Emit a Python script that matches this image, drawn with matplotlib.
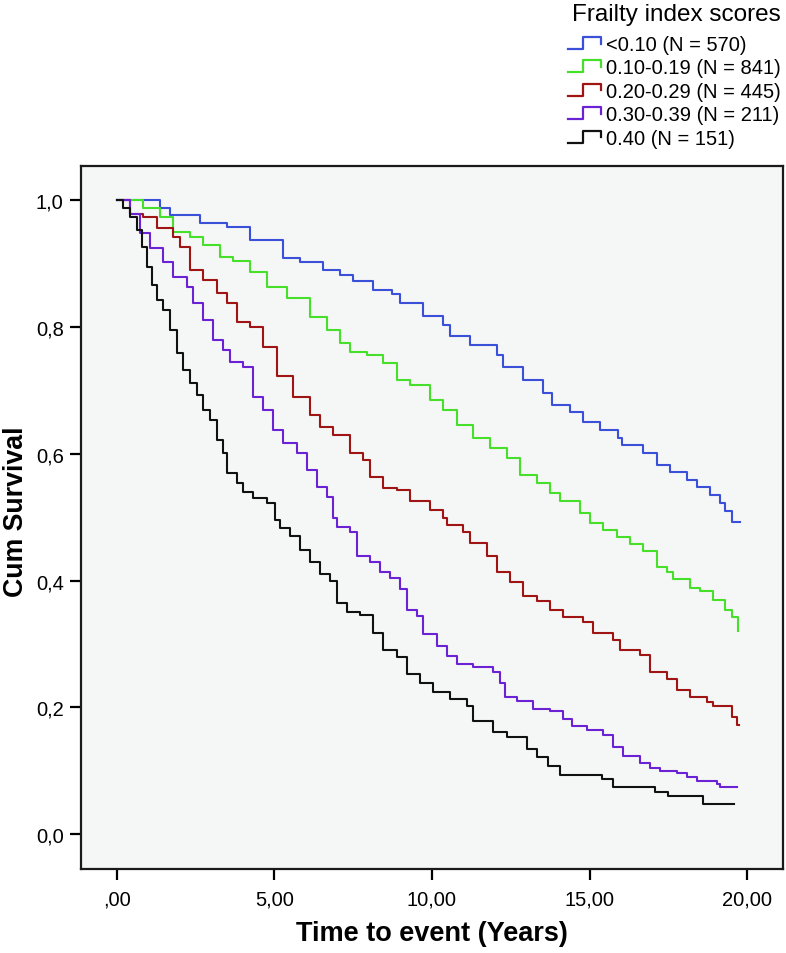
import numpy as np
import matplotlib
matplotlib.use("Agg")
import matplotlib.pyplot as plt
from matplotlib.lines import Line2D
from matplotlib.legend_handler import HandlerBase

plt.rcParams['font.family'] = ['Liberation Sans', 'DejaVu Sans']

# Kaplan-Meier curves (time in years, cumulative survival)
t_lt010 = [0, 1.37, 1.68, 2.63, 3.49, 4.22, 5.27, 5.81, 6.54, 7.08, 7.49, 8.13, 8.73, 8.98,
           9.71, 10.35, 10.57, 11.21, 12.06, 12.25, 12.89, 13.52, 13.81, 14.38, 14.79, 15.33,
           15.90, 16.03, 16.70, 17.14, 17.56, 18.10, 18.41, 18.83, 19.14, 19.30, 19.52, 19.78]
s_lt010 = [1.0, 0.987, 0.976, 0.964, 0.957, 0.937, 0.909, 0.902, 0.890, 0.882, 0.873, 0.858,
           0.852, 0.838, 0.817, 0.803, 0.786, 0.772, 0.756, 0.737, 0.717, 0.696, 0.677, 0.666,
           0.650, 0.638, 0.625, 0.614, 0.601, 0.583, 0.572, 0.559, 0.548, 0.535, 0.523, 0.509,
           0.493, 0.493]

t_010 = [0, 0.83, 1.37, 1.78, 2.32, 2.73, 3.27, 3.68, 4.22, 4.76, 5.40, 6.13, 6.67, 7.08, 7.40,
         7.94, 8.44, 8.89, 9.30, 9.94, 10.35, 10.79, 11.30, 11.84, 12.38, 12.79, 13.33, 13.75,
         14.06, 14.70, 15.02, 15.43, 15.87, 16.29, 16.70, 17.14, 17.46, 17.65, 18.19, 18.51,
         18.92, 19.30, 19.52, 19.71, 19.72]
s_010 = [1.0, 0.987, 0.974, 0.950, 0.942, 0.929, 0.911, 0.904, 0.887, 0.863, 0.845, 0.816,
         0.795, 0.775, 0.761, 0.756, 0.743, 0.717, 0.709, 0.685, 0.669, 0.646, 0.625, 0.609,
         0.594, 0.567, 0.554, 0.538, 0.525, 0.507, 0.491, 0.480, 0.468, 0.457, 0.446, 0.422,
         0.414, 0.402, 0.389, 0.383, 0.370, 0.354, 0.342, 0.320, 0.320]

t_020 = [0, 0.41, 0.83, 1.27, 1.78, 2.00, 2.32, 2.73, 3.17, 3.49, 3.81, 4.22, 4.63, 5.08, 5.59,
         6.13, 6.44, 6.86, 7.40, 7.81, 8.03, 8.44, 8.89, 9.30, 9.94, 10.35, 10.48, 10.98, 11.21,
         11.75, 12.06, 12.48, 12.89, 13.33, 13.75, 14.16, 14.79, 15.11, 15.75, 15.97, 16.60,
         16.92, 17.46, 17.78, 18.19, 18.73, 18.92, 19.52, 19.68, 19.75]
s_020 = [1.0, 0.979, 0.974, 0.956, 0.942, 0.926, 0.890, 0.874, 0.853, 0.838, 0.808, 0.800,
         0.769, 0.722, 0.690, 0.661, 0.643, 0.630, 0.601, 0.590, 0.564, 0.546, 0.543, 0.525,
         0.512, 0.499, 0.488, 0.477, 0.460, 0.438, 0.413, 0.397, 0.375, 0.367, 0.354, 0.343,
         0.334, 0.318, 0.307, 0.291, 0.282, 0.255, 0.244, 0.228, 0.217, 0.208, 0.202, 0.184,
         0.172, 0.172]

t_030 = [0, 0.41, 0.73, 1.05, 1.46, 1.78, 2.22, 2.41, 2.73, 3.05, 3.37, 3.59, 4.00, 4.32, 4.63,
         4.95, 5.27, 5.71, 6.03, 6.35, 6.67, 6.86, 6.98, 7.40, 7.62, 8.03, 8.35, 8.67, 8.98,
         9.21, 9.52, 9.71, 10.16, 10.48, 10.79, 11.30, 11.94, 12.16, 12.32, 12.70, 13.21, 13.75,
         14.16, 14.44, 14.92, 15.43, 15.75, 16.06, 16.60, 16.92, 17.24, 17.78, 18.10, 18.41,
         19.05, 19.14, 19.68]
s_030 = [1.0, 0.979, 0.948, 0.924, 0.902, 0.879, 0.863, 0.838, 0.811, 0.780, 0.764, 0.745,
         0.737, 0.690, 0.669, 0.638, 0.617, 0.601, 0.575, 0.548, 0.532, 0.499, 0.485, 0.476,
         0.438, 0.430, 0.414, 0.404, 0.386, 0.354, 0.344, 0.315, 0.296, 0.281, 0.268, 0.263,
         0.255, 0.239, 0.216, 0.210, 0.197, 0.194, 0.181, 0.170, 0.165, 0.157, 0.137, 0.123,
         0.113, 0.105, 0.099, 0.097, 0.090, 0.084, 0.079, 0.074, 0.074]

t_040 = [0, 0.19, 0.41, 0.63, 0.79, 0.95, 1.11, 1.27, 1.46, 1.68, 1.90, 2.10, 2.32, 2.54, 2.73,
         2.95, 3.17, 3.37, 3.49, 3.81, 4.00, 4.32, 4.76, 5.02, 5.17, 5.49, 5.81, 6.13, 6.44,
         6.76, 6.98, 7.30, 7.71, 8.13, 8.44, 8.89, 9.21, 9.62, 10.03, 10.57, 11.11, 11.30,
         11.94, 12.38, 13.02, 13.33, 13.68, 14.06, 15.40, 15.75, 17.08, 17.49, 18.60, 19.59]
s_040 = [1.0, 0.987, 0.973, 0.953, 0.926, 0.895, 0.866, 0.843, 0.827, 0.795, 0.759, 0.732,
         0.712, 0.693, 0.669, 0.654, 0.622, 0.602, 0.570, 0.554, 0.539, 0.531, 0.523, 0.496,
         0.483, 0.470, 0.449, 0.430, 0.410, 0.399, 0.365, 0.351, 0.346, 0.318, 0.291, 0.279,
         0.252, 0.239, 0.225, 0.213, 0.202, 0.178, 0.161, 0.153, 0.134, 0.121, 0.107, 0.093,
         0.087, 0.074, 0.066, 0.060, 0.047, 0.047]

labels = ["<0.10 (N = 570)", "0.10-0.19 (N = 841)", "0.20-0.29 (N = 445)",
          "0.30-0.39 (N = 211)", "0.40 (N = 151)"]
colors = ["#3a50d8", "#46e02a", "#a01414", "#6a22d4", "#111111"]

xticks = [0, 5, 10, 15, 20]
xticklabels = [",00", "5,00", "10,00", "15,00", "20,00"]
yticks = [0.0, 0.2, 0.4, 0.6, 0.8, 1.0]
yticklabels = ["0,0", "0,2", "0,4", "0,6", "0,8", "1,0"]


class StepHandler(HandlerBase):
    # draws the little step icon used in the legend
    def create_artists(self, legend, orig_handle, xdescent, ydescent,
                       width, height, fontsize, trans):
        xs = np.array([0, 0.45, 0.45, 1.0, 1.0]) * width - xdescent
        ys = np.array([0.05, 0.05, 0.95, 0.95, 0.45]) * height - ydescent
        l = Line2D(xs, ys, color=orig_handle.get_color(), lw=1.6)
        l.set_transform(trans)
        return [l]


fig = plt.figure(figsize=(7.86, 9.54), dpi=100)
ax = fig.add_axes([81 / 786, 84 / 954, 702 / 786, 703 / 954])
ax.set_facecolor("#f5f6f6")

series = [(t_lt010, s_lt010), (t_010, s_010), (t_020, s_020), (t_030, s_030), (t_040, s_040)]
handles = []
for (t, s), c, lab in zip(series, colors, labels):
    h, = ax.step(t, s, where="post", color=c, lw=1.5, label=lab)
    handles.append(h)

ax.set_xlim(-1.14, 21.14)
ax.set_ylim(-0.055, 1.054)
ax.set_xticks(xticks)
ax.set_xticklabels(xticklabels)
ax.set_yticks(yticks)
ax.set_yticklabels(yticklabels)
ax.tick_params(direction="out", length=8, width=1.6, labelsize=14.5, pad=4.5)
ax.tick_params(axis="x", pad=7)
for sp in ax.spines.values():
    sp.set_linewidth(1.6)
    sp.set_color("#1a1a1a")

ax.set_xlabel("Time to event (Years)", fontsize=19.5, fontweight="bold", labelpad=8)
ax.set_ylabel("Cum Survival", fontsize=19.3, fontweight="bold")
ax.yaxis.set_label_coords(-0.0746, 0.509)

fig.text(572 / 786, 1 - 15 / 954, "Frailty index scores", fontsize=17.5,
         ha="left", va="center")
leg = fig.legend(handles, labels, loc="upper left", bbox_to_anchor=(568 / 786, 1 - 36 / 954),
                 fontsize=14.5, frameon=False, handler_map={Line2D: StepHandler()},
                 handlelength=1.65, handleheight=0.65, handletextpad=0.25,
                 labelspacing=0.22, borderpad=0, borderaxespad=0)

fig.savefig("out.png", dpi=100)
